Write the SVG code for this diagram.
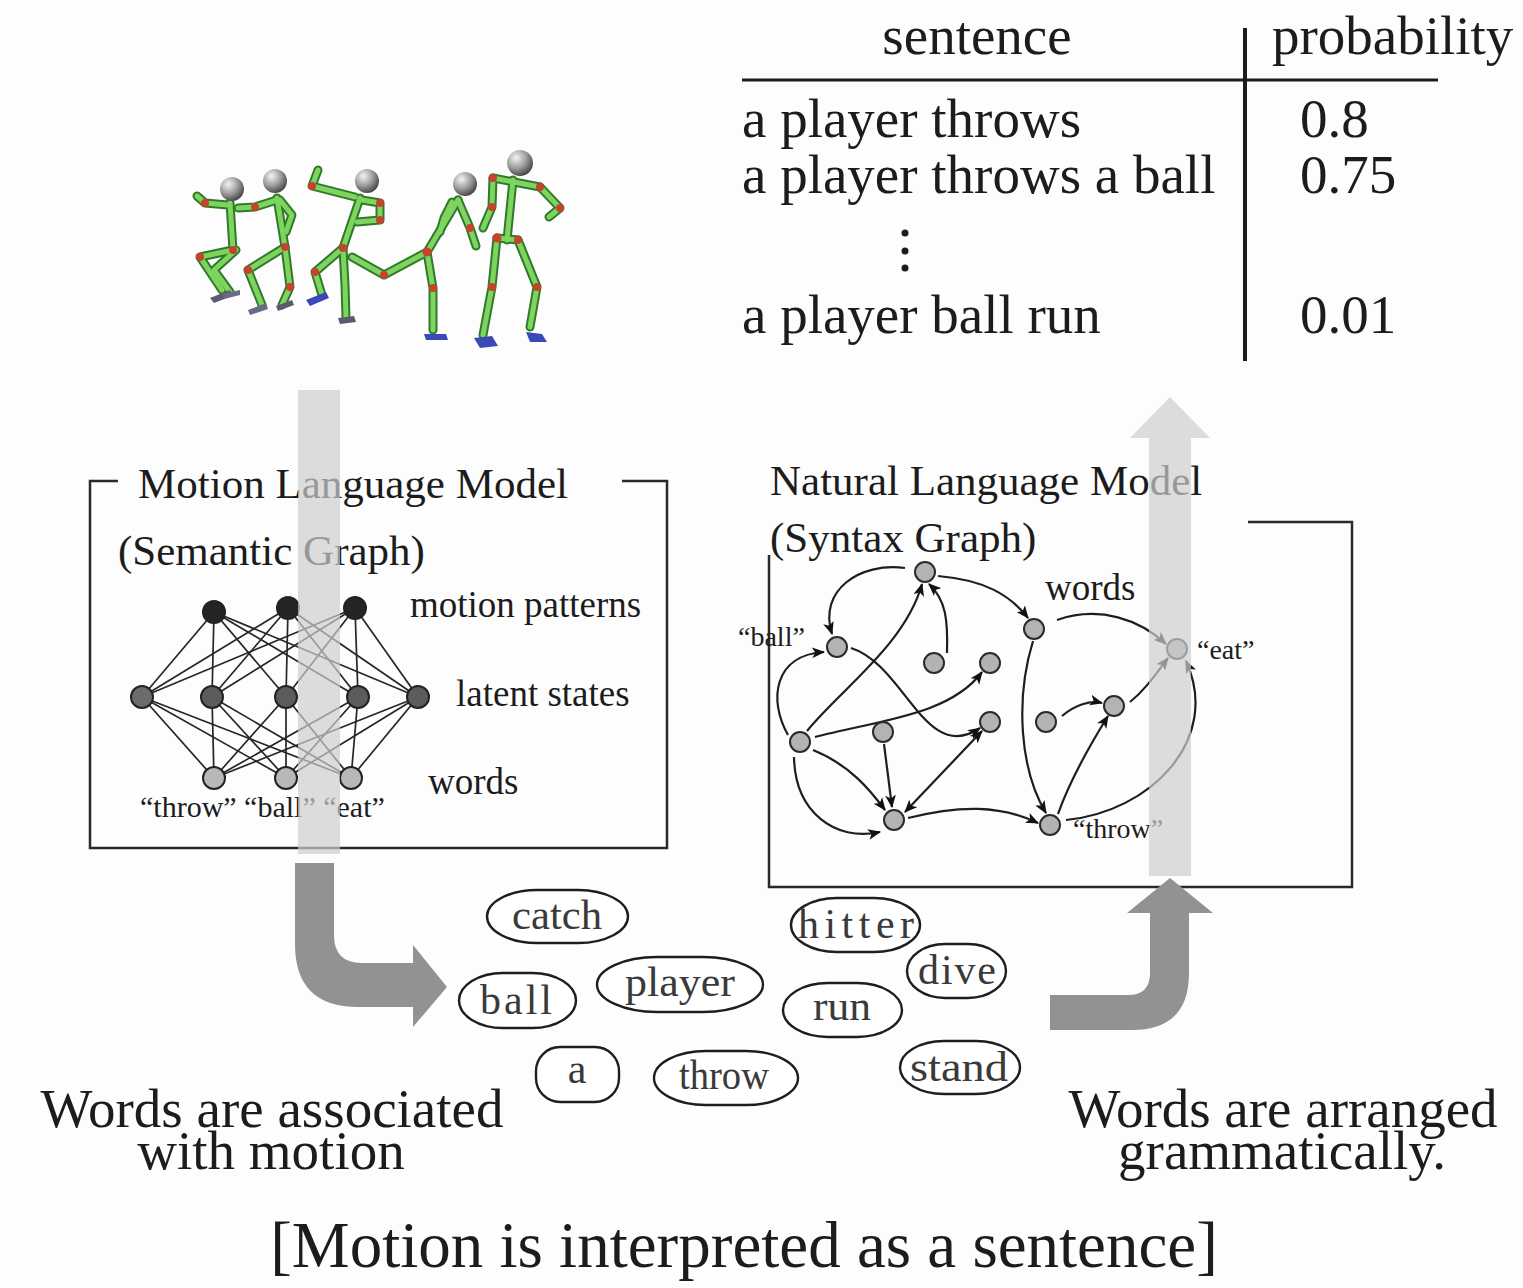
<svg xmlns="http://www.w3.org/2000/svg" width="1523" height="1288" viewBox="0 0 1523 1288">
  <defs>
    <style>
      .serif { font-family: "Liberation Serif", "Times New Roman", serif; fill: #1c1c1c; }
      .box { fill: none; stroke: #2a2a2a; stroke-width: 2.5; }
      .sem { stroke: #262626; stroke-width: 1.7; }
      .edge { fill: none; stroke: #1e1e1e; stroke-width: 2.2; }
      .word { fill: #fff; stroke: #1e1e1e; stroke-width: 2.4; }
      .wtext { font-family: "Liberation Serif", "Times New Roman", serif; font-size: 42px; fill: #3a3a3a; text-anchor: middle; }
      .snode { fill: #b3b3b3; stroke: #2a2a2a; stroke-width: 2; }
      .limb-o { fill: none; stroke: #2f7a2a; stroke-width: 9; stroke-linecap: round; stroke-linejoin: round; }
      .limb { fill: none; stroke: #7fd45f; stroke-width: 5; stroke-linecap: round; stroke-linejoin: round; }
      .joint { fill: #c8402e; }
      .foot { fill: #3b48b8; }
    </style>
    <radialGradient id="headGrad" cx="0.35" cy="0.3" r="0.75">
      <stop offset="0" stop-color="#f4f4f4"/>
      <stop offset="0.55" stop-color="#9a9a9a"/>
      <stop offset="1" stop-color="#404040"/>
    </radialGradient>
    <marker id="arrow" viewBox="0 0 12 10" refX="11" refY="5" markerWidth="13" markerHeight="11" markerUnits="userSpaceOnUse" orient="auto-start-reverse">
      <path d="M0,0 L12,5 L0,10 L3,5 z" fill="#111"/>
    </marker>
  </defs>

  <rect width="1523" height="1288" fill="#fdfdfd"/>

  <!-- motion capture figures -->
  <g id="figures">
    <g id="fig1">
      <polyline class="limb-o" points="230,203 233,250"/>
      <polyline class="limb-o" points="228,205 205,203 197,196"/>
      <polyline class="limb-o" points="233,250 200,257 222,290"/>
      <polyline class="limb-o" points="236,250 214,270 230,292"/>
      <polyline class="limb" points="230,203 233,250"/>
      <polyline class="limb" points="228,205 205,203 197,196"/>
      <polyline class="limb" points="233,250 200,257 222,290"/>
      <polyline class="limb" points="236,250 214,270 230,292"/>
      <circle class="joint" cx="205" cy="203" r="4"/>
      <circle class="joint" cx="200" cy="257" r="4"/>
      <circle class="joint" cx="233" cy="250" r="4"/>
      <polygon points="210,298 230,290 232,296 214,303" fill="#5a5a70"/>
      <polygon points="222,294 240,290 240,295 224,299" fill="#6a6a80"/>
      <circle cx="232" cy="189" r="12" fill="url(#headGrad)"/>
    </g>
    <g id="fig2">
      <polyline class="limb-o" points="277,198 285,247"/>
      <polyline class="limb-o" points="277,200 255,207 238,208"/>
      <polyline class="limb-o" points="280,200 292,215 286,232"/>
      <polyline class="limb-o" points="285,247 248,270 262,305"/>
      <polyline class="limb-o" points="285,247 290,287 282,305"/>
      <polyline class="limb" points="277,198 285,247"/>
      <polyline class="limb" points="277,200 255,207 238,208"/>
      <polyline class="limb" points="280,200 292,215 286,232"/>
      <polyline class="limb" points="285,247 248,270 262,305"/>
      <polyline class="limb" points="285,247 290,287 282,305"/>
      <circle class="joint" cx="255" cy="207" r="4"/>
      <circle class="joint" cx="248" cy="270" r="4"/>
      <circle class="joint" cx="290" cy="287" r="4"/>
      <circle class="joint" cx="285" cy="247" r="4"/>
      <polygon points="248,310 266,303 268,309 250,315" fill="#6a6a80"/>
      <polygon points="276,306 292,300 294,305 278,311" fill="#5a5a70"/>
      <circle cx="275" cy="181" r="12" fill="url(#headGrad)"/>
    </g>
    <g id="fig3">
      <polyline class="limb-o" points="360,198 343,248"/>
      <polyline class="limb-o" points="355,197 312,186 318,170"/>
      <polyline class="limb-o" points="362,200 380,203 380,220 357,222"/>
      <polyline class="limb-o" points="343,248 315,272 322,295"/>
      <polyline class="limb-o" points="343,248 345,285 346,318"/>
      <polyline class="limb" points="360,198 343,248"/>
      <polyline class="limb" points="355,197 312,186 318,170"/>
      <polyline class="limb" points="362,200 380,203 380,220 357,222"/>
      <polyline class="limb" points="343,248 315,272 322,295"/>
      <polyline class="limb" points="343,248 345,285 346,318"/>
      <circle class="joint" cx="312" cy="186" r="4"/>
      <circle class="joint" cx="380" cy="203" r="4"/>
      <circle class="joint" cx="380" cy="220" r="4"/>
      <circle class="joint" cx="315" cy="272" r="4"/>
      <circle class="joint" cx="343" cy="248" r="4"/>
      <polygon class="foot" points="306,300 326,292 329,298 310,306"/>
      <polygon points="338,318 354,316 356,322 340,324" fill="#5a5a70"/>
      <circle cx="367" cy="181" r="12" fill="url(#headGrad)"/>
    </g>
    <g id="fig4">
      <polyline class="limb-o" points="458,200 427,252"/>
      <polyline class="limb-o" points="458,200 470,228 476,246"/>
      <polyline class="limb-o" points="452,202 444,218 440,232"/>
      <polyline class="limb-o" points="427,252 384,275 352,257"/>
      <polyline class="limb-o" points="427,252 433,288 433,330"/>
      <polyline class="limb" points="458,200 427,252"/>
      <polyline class="limb" points="458,200 470,228 476,246"/>
      <polyline class="limb" points="452,202 444,218 440,232"/>
      <polyline class="limb" points="427,252 384,275 352,257"/>
      <polyline class="limb" points="427,252 433,288 433,330"/>
      <circle class="joint" cx="470" cy="228" r="4"/>
      <circle class="joint" cx="384" cy="275" r="4"/>
      <circle class="joint" cx="427" cy="252" r="4.5"/>
      <circle class="joint" cx="433" cy="288" r="4"/>
      <polygon class="foot" points="424,334 446,334 448,340 426,340"/>
      <circle cx="465" cy="184" r="12" fill="url(#headGrad)"/>
    </g>
    <g id="fig5">
      <polyline class="limb-o" points="493,178 540,187"/>
      <polyline class="limb-o" points="513,180 507,240"/>
      <polyline class="limb-o" points="540,187 560,208 549,217"/>
      <polyline class="limb-o" points="493,178 492,207 483,228"/>
      <polyline class="limb-o" points="497,238 518,240"/>
      <polyline class="limb-o" points="497,238 492,287 483,335"/>
      <polyline class="limb-o" points="518,240 537,287 530,327"/>
      <polyline class="limb" points="493,178 540,187"/>
      <polyline class="limb" points="513,180 507,240"/>
      <polyline class="limb" points="540,187 560,208 549,217"/>
      <polyline class="limb" points="493,178 492,207 483,228"/>
      <polyline class="limb" points="497,238 518,240"/>
      <polyline class="limb" points="497,238 492,287 483,335"/>
      <polyline class="limb" points="518,240 537,287 530,327"/>
      <circle class="joint" cx="493" cy="178" r="4"/>
      <circle class="joint" cx="540" cy="187" r="4"/>
      <circle class="joint" cx="560" cy="208" r="4"/>
      <circle class="joint" cx="492" cy="207" r="4"/>
      <circle class="joint" cx="497" cy="238" r="4.5"/>
      <circle class="joint" cx="518" cy="240" r="4"/>
      <circle class="joint" cx="492" cy="287" r="4"/>
      <circle class="joint" cx="537" cy="287" r="4"/>
      <polygon class="foot" points="474,338 492,336 498,346 480,348"/>
      <polygon class="foot" points="526,332 542,334 547,342 530,342"/>
      <circle cx="520" cy="163" r="13" fill="url(#headGrad)"/>
    </g>
  </g>

  <!-- sentence probability table -->
  <g id="table">
    <text class="serif" x="977" y="54" font-size="55" text-anchor="middle">sentence</text>
    <text class="serif" x="1272" y="54" font-size="55">probability</text>
    <line x1="742" y1="80" x2="1438" y2="80" stroke="#1c1c1c" stroke-width="3"/>
    <line x1="1245" y1="28" x2="1245" y2="361" stroke="#1c1c1c" stroke-width="4"/>
    <text class="serif" x="742" y="137" font-size="55">a player throws</text>
    <text class="serif" x="742" y="193" font-size="55">a player throws a ball</text>
    <circle cx="905" cy="233" r="3.5" fill="#1c1c1c"/>
    <circle cx="905" cy="251" r="3.5" fill="#1c1c1c"/>
    <circle cx="905" cy="268" r="3.5" fill="#1c1c1c"/>
    <text class="serif" x="742" y="333" font-size="55">a player ball run</text>
    <text class="serif" x="1300" y="137" font-size="55">0.8</text>
    <text class="serif" x="1300" y="193" font-size="55">0.75</text>
    <text class="serif" x="1300" y="333" font-size="55">0.01</text>
  </g>

  <!-- Motion Language Model (semantic graph) -->
  <g id="motion-model">
    <path class="box" d="M118,481 L90,481 L90,848 L667,848 L667,481 L622,481"/>
    <text class="serif" x="138" y="498" font-size="43">Motion Language Model</text>
    <text class="serif" x="118" y="565" font-size="43">(Semantic Graph)</text>
    <g id="semantic-edges">
      <!-- motion patterns to latent states -->
      <line class="sem" x1="214" y1="612" x2="142" y2="697"/>
      <line class="sem" x1="214" y1="612" x2="212" y2="697"/>
      <line class="sem" x1="214" y1="612" x2="286" y2="697"/>
      <line class="sem" x1="214" y1="612" x2="358" y2="697"/>
      <line class="sem" x1="214" y1="612" x2="418" y2="697"/>
      <line class="sem" x1="288" y1="608" x2="142" y2="697"/>
      <line class="sem" x1="288" y1="608" x2="212" y2="697"/>
      <line class="sem" x1="288" y1="608" x2="286" y2="697"/>
      <line class="sem" x1="288" y1="608" x2="358" y2="697"/>
      <line class="sem" x1="288" y1="608" x2="418" y2="697"/>
      <line class="sem" x1="355" y1="608" x2="142" y2="697"/>
      <line class="sem" x1="355" y1="608" x2="212" y2="697"/>
      <line class="sem" x1="355" y1="608" x2="286" y2="697"/>
      <line class="sem" x1="355" y1="608" x2="358" y2="697"/>
      <line class="sem" x1="355" y1="608" x2="418" y2="697"/>
      <!-- latent states to words -->
      <line class="sem" x1="142" y1="697" x2="214" y2="778"/>
      <line class="sem" x1="142" y1="697" x2="286" y2="778"/>
      <line class="sem" x1="142" y1="697" x2="351" y2="778"/>
      <line class="sem" x1="212" y1="697" x2="214" y2="778"/>
      <line class="sem" x1="212" y1="697" x2="286" y2="778"/>
      <line class="sem" x1="212" y1="697" x2="351" y2="778"/>
      <line class="sem" x1="286" y1="697" x2="214" y2="778"/>
      <line class="sem" x1="286" y1="697" x2="286" y2="778"/>
      <line class="sem" x1="286" y1="697" x2="351" y2="778"/>
      <line class="sem" x1="358" y1="697" x2="214" y2="778"/>
      <line class="sem" x1="358" y1="697" x2="286" y2="778"/>
      <line class="sem" x1="358" y1="697" x2="351" y2="778"/>
      <line class="sem" x1="418" y1="697" x2="214" y2="778"/>
      <line class="sem" x1="418" y1="697" x2="286" y2="778"/>
      <line class="sem" x1="418" y1="697" x2="351" y2="778"/>
    </g>
    <g id="semantic-nodes" stroke="#222" stroke-width="2">
      <circle cx="214" cy="612" r="11" fill="#252525"/>
      <circle cx="288" cy="608" r="11" fill="#252525"/>
      <circle cx="355" cy="608" r="11" fill="#252525"/>
      <circle cx="142" cy="697" r="11" fill="#6c6c6c"/>
      <circle cx="212" cy="697" r="11" fill="#5c5c5c"/>
      <circle cx="286" cy="697" r="11" fill="#5c5c5c"/>
      <circle cx="358" cy="697" r="11" fill="#5c5c5c"/>
      <circle cx="418" cy="697" r="11" fill="#5c5c5c"/>
      <circle cx="214" cy="778" r="11" fill="#b8b8b8"/>
      <circle cx="286" cy="778" r="11" fill="#b8b8b8"/>
      <circle cx="351" cy="778" r="11" fill="#b8b8b8"/>
    </g>
    <text class="serif" x="410" y="617" font-size="37">motion patterns</text>
    <text class="serif" x="456" y="706" font-size="37">latent states</text>
    <text class="serif" x="428" y="794" font-size="37">words</text>
    <text class="serif" x="140" y="817" font-size="30">“throw” “ball” “eat”</text>
    <!-- light flow band crossing the model -->
    <rect x="298" y="390" width="42" height="464" fill="#cdcdcd" opacity="0.7"/>
  </g>

  <!-- Natural Language Model (syntax graph) -->
  <g id="natural-model">
    <path class="box" d="M769,555 L769,887 L1352,887 L1352,522 L1248,522"/>
    <text class="serif" x="770" y="495" font-size="43">Natural Language Model</text>
    <text class="serif" x="770" y="552" font-size="43">(Syntax Graph)</text>
    <g id="syntax-edges">
      <path class="edge" marker-end="url(#arrow)" d="M905,568 C860,562 818,590 832,634"/>
      <path class="edge" marker-end="url(#arrow)" d="M788,735 C768,700 774,655 824,652"/>
      <path class="edge" marker-end="url(#arrow)" d="M807,731 C840,690 905,645 922,584"/>
      <path class="edge" marker-end="url(#arrow)" d="M947,653 C948,620 946,600 929,584"/>
      <path class="edge" marker-end="url(#arrow)" d="M938,576 C985,580 1010,595 1028,618"/>
      <path class="edge" marker-end="url(#arrow)" d="M851,648 C905,665 925,765 980,728"/>
      <path class="edge" marker-end="url(#arrow)" d="M815,737 C880,720 950,715 982,672"/>
      <path class="edge" marker-end="url(#arrow)" d="M813,750 C850,765 870,790 885,810"/>
      <path class="edge" marker-end="url(#arrow)" d="M794,757 C795,812 835,842 880,832"/>
      <path class="edge" marker-end="url(#arrow)" d="M884,744 L892,807"/>
      <path class="edge" marker-start="url(#arrow)" marker-end="url(#arrow)" d="M982,731 L905,812"/>
      <path class="edge" marker-end="url(#arrow)" d="M908,818 C960,805 1000,805 1038,823"/>
      <path class="edge" marker-end="url(#arrow)" d="M1033,641 C1015,700 1020,770 1046,813"/>
      <path class="edge" marker-end="url(#arrow)" d="M1058,814 C1070,780 1090,745 1108,716"/>
      <path class="edge" marker-end="url(#arrow)" d="M1062,716 C1075,705 1090,700 1102,703"/>
      <path class="edge" marker-end="url(#arrow)" d="M1130,702 C1145,690 1155,675 1168,658"/>
      <path class="edge" marker-end="url(#arrow)" d="M1057,620 C1100,605 1140,620 1166,644"/>
      <path class="edge" marker-end="url(#arrow)" d="M1066,820 C1150,812 1222,740 1186,661"/>
    </g>
    <g id="syntax-nodes">
      <circle class="snode" cx="925" cy="572" r="10"/>
      <circle class="snode" cx="837" cy="647" r="10"/>
      <circle class="snode" cx="934" cy="663" r="10"/>
      <circle class="snode" cx="990" cy="663" r="10"/>
      <circle class="snode" cx="1034" cy="629" r="10"/>
      <circle class="snode" cx="1177" cy="649" r="10"/>
      <circle class="snode" cx="800" cy="742" r="10"/>
      <circle class="snode" cx="883" cy="732" r="10"/>
      <circle class="snode" cx="990" cy="722" r="10"/>
      <circle class="snode" cx="1046" cy="722" r="10"/>
      <circle class="snode" cx="1114" cy="706" r="10"/>
      <circle class="snode" cx="894" cy="820" r="10"/>
      <circle class="snode" cx="1050" cy="825" r="10"/>
    </g>
    <text class="serif" x="1045" y="600" font-size="37">words</text>
    <text class="serif" x="738" y="646" font-size="28">“ball”</text>
    <text class="serif" x="1197" y="659" font-size="28">“eat”</text>
    <text class="serif" x="1073" y="838" font-size="28">“throw”</text>
    <!-- light flow band rising to the table -->
    <path d="M1149,876 L1149,438 L1130,438 L1170,397 L1210,438 L1191,438 L1191,876 Z" fill="#cdcdcd" opacity="0.7"/>
  </g>

  <!-- vocabulary bubbles -->
  <g id="words">
    <g id="w-catch"><rect class="word" x="487" y="890" width="141" height="53" rx="50" ry="26.5"/><text class="wtext" x="557" y="929" textLength="90" lengthAdjust="spacingAndGlyphs">catch</text></g>
    <g id="w-hitter"><rect class="word" x="791" y="898" width="129" height="54" rx="46" ry="27"/><text class="wtext" x="856" y="938" textLength="116" lengthAdjust="spacing">hitter</text></g>
    <g id="w-dive"><rect class="word" x="907" y="944" width="99" height="54" rx="38" ry="27"/><text class="wtext" x="957" y="984" textLength="78" lengthAdjust="spacing">dive</text></g>
    <g id="w-ball"><rect class="word" x="459" y="973" width="117" height="55" rx="44" ry="27.5"/><text class="wtext" x="516" y="1014" textLength="72" lengthAdjust="spacing">ball</text></g>
    <g id="w-player"><rect class="word" x="597" y="957" width="166" height="55" rx="60" ry="27.5"/><text class="wtext" x="680" y="996" textLength="110" lengthAdjust="spacingAndGlyphs">player</text></g>
    <g id="w-run"><rect class="word" x="783" y="983" width="119" height="54" rx="45" ry="27"/><text class="wtext" x="842" y="1020" textLength="58" lengthAdjust="spacingAndGlyphs">run</text></g>
    <g id="w-a"><rect class="word" x="536" y="1047" width="83" height="55" rx="24" ry="24"/><text class="wtext" x="577" y="1083">a</text></g>
    <g id="w-throw"><rect class="word" x="654" y="1051" width="144" height="54" rx="52" ry="27"/><text class="wtext" x="724" y="1089" textLength="90" lengthAdjust="spacingAndGlyphs">throw</text></g>
    <g id="w-stand"><rect class="word" x="900" y="1041" width="120" height="53" rx="44" ry="26.5"/><text class="wtext" x="959" y="1081" textLength="98" lengthAdjust="spacingAndGlyphs">stand</text></g>
  </g>

  <!-- bent flow arrows -->
  <g id="flow-arrows" fill="#929292">
    <path d="M295,863 L334,863 L334,935 Q334,963 362,963 L413,963 L413,945 L447,987 L413,1027 L413,1007 L358,1007 Q295,1007 295,944 Z"/>
    <path d="M1050,995 L1128,995 Q1150,995 1150,973 L1150,913 L1127,913 L1170,878 L1213,913 L1189,913 L1189,973 Q1189,1030 1132,1030 L1050,1030 Z"/>
  </g>

  <!-- captions -->
  <g id="captions">
    <text class="serif" x="272" y="1127" font-size="55" text-anchor="middle">Words are associated</text>
    <text class="serif" x="271" y="1169" font-size="55" text-anchor="middle">with motion</text>
    <text class="serif" x="1283" y="1127" font-size="55" text-anchor="middle">Words are arranged</text>
    <text class="serif" x="1282" y="1169" font-size="55" text-anchor="middle">grammatically.</text>
    <text class="serif" x="744" y="1267" font-size="65" text-anchor="middle">[Motion is interpreted as a sentence]</text>
  </g>
</svg>
